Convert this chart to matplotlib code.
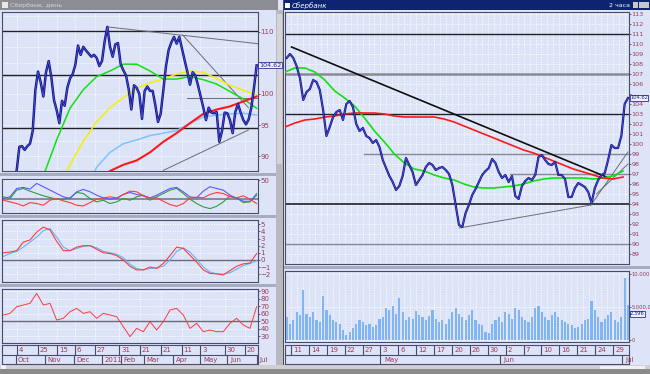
import numpy as np
import matplotlib
matplotlib.use("Agg")
import matplotlib.pyplot as plt
from matplotlib.patches import Rectangle
from matplotlib.transforms import blended_transform_factory

W, H = 650, 374
BG = '#dde4f8'
FRAME = '#4a4a6a'
LBL = '#9a3a5a'
nan = np.nan

# ---------------- left window: daily, Sep 2010 - Jul 2011 ----------------
l_close = [84.5, 85.0, 85.5, 86.0, 86.5,
           87.7, 91.5, 91.6, 91.0, 91.6, 92.0, 94.0, 100.6, 103.6, 101.9,
           99.6, 103.5, 105.3, 102.7, 99.0, 97.4, 95.3, 98.9, 98.1, 101.0,
           102.5, 103.2, 104.7, 107.8, 106.3, 107.6, 107.0, 106.5, 106.0, 106.3,
           105.8, 104.5, 105.3, 108.5, 110.8, 107.6, 106.0, 108.0, 108.2, 104.8,
           103.8, 103.0, 100.8, 97.5, 101.4, 101.0, 100.0, 96.0, 100.5, 101.2,
           100.5, 100.5, 98.2, 95.5, 96.8, 100.6, 104.5, 107.1, 108.3, 109.2,
           108.1, 109.2, 107.3, 105.4, 103.6, 101.5, 103.5, 103.0, 101.4, 99.6,
           97.8, 95.8, 97.8, 97.0, 96.9, 97.1, 92.3, 94.0, 97.0, 96.9,
           95.8, 93.7, 97.1, 98.4, 97.0, 95.8, 95.1, 95.9, 97.8, 101.0,
           104.6]
l_ma_green = [86.8, 92.6, 97.7, 100.7, 102.8, 103.7, 104.8, 104.8, 103.7,
              102.4, 102.4, 102.8, 102.3, 101.6, 100.4, 99.2, 97.7]
l_ma_yellow = [nan, 84.0, 88.6, 92.4, 95.5, 97.8, 99.4, 100.9, 101.8,
               102.4, 103.2, 103.7, 103.5, 102.5, 101.4, 100.6, 99.8]
l_ma_blue = [nan, nan, nan, 84.0, 88.2, 90.6, 92.0, 92.6, 93.3,
             93.7, 94.1, 95.3, 96.3, 96.6, 96.8, 96.9, 96.6]
l_ma_red = [nan, nan, nan, nan, 85.5, 87.6, 88.6, 89.3, 90.6,
            92.3, 93.7, 95.3, 96.8, 97.5, 98.0, 98.8, 99.6]
l_levels = [110.2, 103.0, 94.5]
l_trend = [((78.0, 110.8), (189.4, 108.1)),
           ((133.8, 109.5), (182.5, 97.8)),
           ((119.5, 87.7), (182.5, 94.2)),
           ((136.8, 99.3), (188.6, 99.3))]

osc_blue = [21.1, 23.7, 36.8, 38.4, 35.8, 44.7, 39.5, 34.2, 28.9, 23.7, 21.1, 31.6, 35.3,
            31.6, 26.3, 22.1, 20.0, 21.1, 27.4, 30.5, 27.4, 25.3, 22.1, 26.3, 31.6, 36.8,
            38.4, 31.6, 23.7, 22.1, 32.6, 39.5, 36.8, 34.2, 26.3, 21.1, 16.8, 16.8, 26.3]
osc_green = [23.7, 21.1, 34.2, 36.8, 32.6, 28.9, 25.3, 22.6, 20.0, 20.0, 22.1, 30.5, 28.9,
             21.1, 15.8, 18.4, 13.2, 15.8, 21.1, 18.4, 23.7, 26.3, 18.4, 23.7, 28.9, 34.2,
             36.8, 28.9, 20.0, 13.2, 7.9, 5.3, 8.9, 15.8, 25.3, 22.1, 14.7, 15.8, 28.9]
osc_red = [18.4, 15.8, 13.2, 9.5, 14.7, 13.2, 10.5, 18.4, 21.1, 17.4, 14.7, 10.5, 9.5,
           14.7, 20.0, 22.1, 23.7, 22.1, 27.4, 32.6, 31.6, 25.3, 22.1, 22.1, 16.8, 11.6,
           8.9, 13.2, 22.1, 23.2, 22.1, 27.4, 30.5, 28.9, 23.7, 22.1, 25.3, 20.0, 13.2]
macd = [1.0, 1.1, 1.3, 2.5, 2.8, 3.9, 4.6, 4.2, 2.6, 1.3, 1.3, 1.8, 2.0, 2.0, 1.5, 1.0,
        0.9, 0.6, 0.0, -0.9, -1.4, -1.4, -1.0, -1.2, -0.5, 0.6, 1.8, 1.6, 0.65, -0.3,
        -1.4, -1.9, -1.95, -2.1, -1.5, -0.9, -0.55, -0.45, 0.9]
macd_signal = [0.5, 0.9, 1.2, 1.8, 2.5, 3.2, 4.1, 4.4, 3.2, 1.8, 1.3, 1.6, 1.9, 2.0, 1.7,
               1.2, 1.0, 0.8, 0.3, -0.6, -1.2, -1.4, -1.2, -1.1, -0.9, 0.0, 1.2, 1.7, 1.1,
               0.1, -1.0, -1.7, -1.95, -2.0, -1.8, -1.3, -0.8, -0.5, -0.1]
rsi = [58.0, 60.2, 69.1, 71.3, 73.6, 86.9, 71.3, 73.6, 51.3, 53.6, 62.4, 66.9, 60.2,
       62.4, 53.6, 60.2, 58.0, 55.8, 42.4, 29.1, 40.2, 35.8, 49.1, 38.0, 49.1, 64.7,
       66.9, 58.0, 40.2, 46.9, 35.8, 38.0, 35.8, 35.8, 46.9, 53.6, 44.7, 40.2, 69.1]

l_day_ticks = [11, 27, 41, 54, 69, 87, 102, 118, 133, 147, 165, 180]
l_day_labels = ['4', '25', '15', '6', '27', '31', '21', '21', '11', '3', '30', '20']
l_month_seps = [10, 32, 53, 74, 88, 105, 127, 147, 167, 189]
l_month_labels = ['Oct', 'Nov', 'Dec', '2011', 'Feb', 'Mar', 'Apr', 'May', 'Jun', 'Jul']

# ---------------- right window: 2-hour bars, Apr - Jul 2011 ----------------
r_close = [108.6, 109.0, 108.6, 107.8, 106.6, 104.4, 105.2, 105.5, 106.4, 106.2,
           105.4, 103.4, 100.8, 101.7, 102.7, 103.2, 103.4, 102.4, 104.0, 104.3,
           103.7, 102.0, 101.3, 101.6, 100.8, 100.6, 100.1, 100.4, 99.7, 98.4,
           97.6, 96.8, 96.2, 95.4, 95.8, 96.8, 98.6, 97.9, 97.2, 95.9,
           96.4, 96.9, 97.7, 98.1, 97.9, 97.4, 97.6, 97.7, 97.4, 97.0,
           95.9, 93.9, 91.9, 91.7, 93.1, 93.9, 94.9, 95.5, 96.2, 96.9,
           97.3, 97.6, 98.5, 98.1, 97.2, 96.6, 96.9, 96.2, 96.8, 94.8,
           94.5, 95.8, 96.3, 96.6, 96.4, 96.9, 98.7, 98.9, 98.4, 98.0,
           97.9, 98.2, 96.9, 96.9, 96.5, 94.7, 94.7, 95.6, 96.1, 95.9,
           95.7, 95.2, 94.1, 95.6, 96.4, 96.9, 97.1, 98.4, 99.9, 99.6,
           99.6, 100.8, 104.0, 104.6]
r_vol = [3500, 2500, 3000, 4200, 3800, 7600, 4000, 3500, 4200, 3000,
         2800, 6700, 4500, 3800, 3000, 2800, 2500, 1500, 800, 1200,
         1800, 2500, 3000, 2800, 2200, 2500, 2000, 2200, 3200, 3500,
         4800, 4500, 5200, 4000, 6400, 4200, 3000, 3500, 3200, 4400,
         3800, 3500, 3000, 3600, 4500, 3200, 2800, 3000, 2500, 3200,
         4200, 4800, 4000, 3500, 3000, 3800, 4500, 3000, 2500, 2200,
         1200, 1000, 2500, 3000, 3500, 2800, 4200, 4000, 3200, 4800,
         4500, 3500, 3000, 2800, 3500, 4800, 5200, 4200, 3500, 3000,
         3800, 4200, 3500, 3000, 2800, 2500, 2200, 1800, 2000, 2500,
         3000, 3200, 5900, 4500, 3500, 2800, 3200, 3800, 4200, 3000,
         2800, 3500, 9400, 5300]
r_ma_green = [107.2, 107.6, 107.6, 107.2, 106.4, 105.3, 104.6, 103.8, 102.6, 101.3,
              100.2, 99.0, 98.1, 97.5, 97.3, 96.9, 96.6, 96.4, 96.0, 95.7,
              95.6, 95.6, 95.7, 95.8, 96.0, 96.3, 96.5, 96.6, 96.6, 96.6,
              96.6, 96.5, 96.6, 96.8, 97.3]
r_ma_red = [101.7, 102.1, 102.4, 102.5, 102.7, 102.8, 103.0, 103.1, 103.1, 103.1,
            103.0, 102.8, 102.7, 102.7, 102.7, 102.7, 102.5, 102.2, 101.8, 101.4,
            101.0, 100.6, 100.2, 99.8, 99.4, 99.1, 98.7, 98.3, 97.9, 97.5,
            97.2, 96.9, 96.6, 96.5, 96.7]
r_black_levels = [111, 103, 94]
r_gray_levels = [107, 90]
r_partial_levels = [(12.3, 99), (36.8, 97)]
r_trend_black = ((0.1, 109.7), (52.9, 96.7))
r_trend_gray = [((28.2, 91.6), (50.3, 93.9)),
                ((50.3, 93.9), (56.5, 99.2)),
                ((51.2, 95.0), (56.5, 98.0))]

r_day_ticks = list(range(0, 55, 3))
r_day_labels = ['11', '14', '19', '22', '27', '3', '6', '12', '17', '20',
                '26', '30', '2', '7', '10', '16', '21', '24', '29']
r_month_seps = [15, 35, 55.5]
r_month_labels = ['May', 'Jun', 'Jul']

# ---------------- figure ----------------
fig = plt.figure(figsize=(6.5, 3.74), dpi=100)
fig.patch.set_facecolor(BG)


def rect(x0, y0, x1, y1):
    return [x0 / W, 1 - y1 / H, (x1 - x0) / W, (y1 - y0) / H]


bg = fig.add_axes([0, 0, 1, 1], zorder=-5)
bg.set_xlim(0, W)
bg.set_ylim(H, 0)
bg.axis('off')


def box(x, y, w, h, c, **kw):
    bg.add_patch(Rectangle((x, y), w, h, facecolor=c, edgecolor='none', **kw))


# title bars
box(0, 0, 278, 10, '#8c8c94')
box(2, 2, 6, 6, '#e8e8e8')
bg.text(10, 5.3, 'Сбербанк, день', fontsize=4.5, color='#d8d8d8', va='center')
box(283, 0, 367, 10, '#0c2472')
box(285, 2.5, 5, 5, '#ffffff')
bg.text(292, 5.3, 'Сбербанк', fontsize=5, color='white', va='center', style='italic')
bg.text(630, 5.3, '2 часа', fontsize=4.5, color='white', va='center', ha='right')
for bx in (633, 638.5, 644):
    box(bx, 2, 5, 6, '#c8c8c8')
# window border and scrollbar between windows
box(276, 10, 7, 356, '#b8b8c0')
box(277, 14, 5, 150, '#d4d4d8')
box(282.5, 0, 1.2, 366, '#505050')
# panel separators
for yy in (172.5, 214.5, 283.5):
    box(0, yy, 276, 3.5, '#a8acc0')
box(283.7, 265.5, 366, 3.5, '#a8acc0')
# bottom bars
box(0, 365, 650, 4, '#d0d0d4')
box(0, 369, 650, 5, '#8a8a8a')
box(600, 365.5, 45, 3, '#f0f0f0')
box(1, 364.5, 5, 4, '#f4f4f4')


def panel(x0, y0, x1, y1, xlim, lsize=5):
    ax = fig.add_axes(rect(x0, y0, x1, y1))
    ax.set_facecolor(BG)
    for s in ax.spines.values():
        s.set_color(FRAME)
        s.set_linewidth(0.8)
    ax.yaxis.tick_right()
    ax.tick_params(axis='y', labelsize=lsize, labelcolor=LBL, color=FRAME,
                   length=1.2, pad=0.4, width=0.6)
    ax.tick_params(axis='x', bottom=False, labelbottom=False, length=0)
    ax.set_xlim(*xlim)
    ax.grid(True, color='white', linestyle=(0, (1, 1.5)), linewidth=0.7)
    return ax


def date_strip(x0, y0, x1, y1, xlim, ticks, labels, seps, mlabels):
    ax = fig.add_axes(rect(x0, y0, x1, y1))
    ax.set_facecolor(BG)
    for s in ax.spines.values():
        s.set_color(FRAME)
        s.set_linewidth(0.8)
    ax.set_xlim(*xlim)
    ax.set_ylim(0, 2)
    ax.set_xticks([])
    ax.set_yticks([])
    ax.axhline(1, color=FRAME, lw=0.8)
    for t, lab in zip(ticks, labels):
        ax.plot([t, t], [1, 2], color=FRAME, lw=0.8)
        ax.text(t + (xlim[1] - xlim[0]) * 0.006, 1.45, lab, fontsize=5,
                color=LBL, va='center')
    for t, lab in zip(seps, mlabels):
        ax.plot([t, t], [0, 1], color=FRAME, lw=0.8)
        ax.text(t + (xlim[1] - xlim[0]) * 0.01, 0.45, lab, fontsize=5,
                color=LBL, va='center', clip_on=False)
    return ax


def value_box(ax, y, text, size=4.6):
    tr = blended_transform_factory(ax.transAxes, ax.transData)
    ax.text(1.003, y, text, transform=tr, fontsize=size, color='#202080',
            va='center', ha='left', clip_on=False,
            bbox=dict(boxstyle='square,pad=0.1', fc='#eef2ff', ec='#303090', lw=0.6))


l_xlim = (0, 189.6)
x_l = np.linspace(1.0, 188.6, len(l_close))
x_lma = np.linspace(30.6, 188.6, len(l_ma_green))
x_osc = np.linspace(1.0, 188.6, len(osc_blue))

# left price
ax = panel(2, 12, 258, 171, l_xlim)
ax.set_ylim(87.6, 113.2)
ax.set_xticks(l_day_ticks)
ax.set_yticks([90, 95, 100, 110])
ax.set_yticks([92.5, 97.5, 102.5, 105, 107.5, 112.5], minor=True)
ax.tick_params(axis='y', which='minor', length=0)
ax.grid(True, which='minor', axis='y', color='white', linestyle=(0, (1, 1.5)), linewidth=0.7)
for lv in l_levels:
    ax.axhline(lv, color='#202028', lw=1.0, zorder=2)
for (a, b) in l_trend:
    ax.plot([a[0], b[0]], [a[1], b[1]], color='#6c6c74', lw=0.7, zorder=2)
ax.plot(x_lma, l_ma_blue, color='#7cc4ff', lw=1.1, zorder=3)
ax.plot(x_lma, l_ma_yellow, color='#f4f000', lw=1.1, zorder=3)
ax.plot(x_lma, l_ma_green, color='#10e010', lw=1.1, zorder=3)
ax.plot(x_lma, l_ma_red, color='#ff1818', lw=1.5, zorder=3)
ax.plot(x_l, l_close, color='#16168e', lw=1.8, zorder=4)
ax.plot(x_l, l_close, color='#5a6ae0', lw=0.4, zorder=4)
value_box(ax, 104.62, '104.62')

# left oscillator (DMI-like)
ax = panel(2, 179, 258, 213, l_xlim)
ax.set_ylim(-1.6, 51.6)
ax.set_xticks(l_day_ticks)
ax.set_yticks([50])
ax.axhline(20, color='#7a7a88', lw=1.2)
ax.plot(x_osc, osc_green, color='#2e9e3e', lw=0.8)
ax.plot(x_osc, osc_blue, color='#5a5aff', lw=0.8)
ax.plot(x_osc, osc_red, color='#ff3a3a', lw=0.8)

# left MACD
ax = panel(2, 220, 258, 282, l_xlim)
ax.set_ylim(-3.1, 5.6)
ax.set_xticks(l_day_ticks)
ax.set_yticks([-2, -1, 0, 1, 2, 3, 4, 5])
ax.axhline(0, color='#6a6a78', lw=1.0)
ax.plot(x_osc, macd_signal, color='#60b4ff', lw=0.8)
ax.plot(x_osc, macd, color='#ff3a3a', lw=0.8)

# left RSI
ax = panel(2, 289, 258, 343, l_xlim)
ax.set_ylim(20.7, 92.7)
ax.set_xticks(l_day_ticks)
ax.set_yticks([30, 40, 50, 60, 70, 80, 90])
ax.axhline(50, color='#6a6a78', lw=1.0)
ax.plot(x_osc, rsi, color='#ff3a3a', lw=0.7)

date_strip(2, 345, 258, 364, l_xlim, l_day_ticks, l_day_labels,
           l_month_seps, l_month_labels)

# right price
R_X1 = 629
r_xlim = (-1.0, 56.67)
x_r = np.linspace(-0.72, 56.5, len(r_close))
x_rma = np.linspace(-1.0, 55.67, len(r_ma_green))
ax = panel(285, 12, R_X1, 264, r_xlim, lsize=4.6)
ax.set_ylim(88.0, 113.2)
ax.set_xticks(r_day_ticks)
ax.set_xticks(np.arange(-1, 57, 1), minor=True)
ax.tick_params(axis='x', which='minor', length=0)
ax.grid(True, which='minor', axis='x', color='white', linestyle=(0, (1, 1.5)), linewidth=0.7)
ax.set_yticks(range(89, 114))
ax.set_yticklabels(['' if v == 105 else str(v) for v in range(89, 114)])
for lv in r_black_levels:
    ax.axhline(lv, color='#202028', lw=1.2 if lv == 94 else 1.0, zorder=2)
for lv in r_gray_levels:
    ax.axhline(lv, color='#8a8a94', lw=1.8 if lv == 107 else 1.0, zorder=2)
for x0, lv in r_partial_levels:
    ax.plot([x0, r_xlim[1]], [lv, lv], color='#8a8a94', lw=1.0, zorder=2)
for (a, b) in r_trend_gray:
    ax.plot([a[0], b[0]], [a[1], b[1]], color='#6c6c74', lw=0.7, zorder=2)
a, b = r_trend_black
ax.plot([a[0], b[0]], [a[1], b[1]], color='#101010', lw=1.2, zorder=3)
ax.plot(x_rma, r_ma_green, color='#10e010', lw=1.2, zorder=3)
ax.plot(x_rma, r_ma_red, color='#ff1818', lw=1.2, zorder=3)
ax.plot(x_r, r_close, color='#16168e', lw=1.6, zorder=4)
ax.plot(x_r, r_close, color='#5a6ae0', lw=0.4, zorder=4)
value_box(ax, 104.62, '104.62', size=3.7)

# right volume
ax = panel(285, 271, R_X1, 342, r_xlim, lsize=3.7)
ax.set_ylim(-300, 10450)
ax.set_xticks(r_day_ticks)
ax.set_xticks(np.arange(-1, 57, 1), minor=True)
ax.tick_params(axis='x', which='minor', length=0)
ax.grid(True, which='minor', axis='x', color='white', linestyle=(0, (1, 1.5)), linewidth=0.7)
ax.set_yticks([0, 5000, 10000])
ax.set_yticklabels(['0', '5.000,0', '10.000'])
ax.bar(x_r, r_vol, width=0.36, color='#80b4f2', zorder=3)
value_box(ax, 4000, '2.396', size=3.7)

date_strip(285, 345, R_X1, 364, r_xlim, r_day_ticks, r_day_labels,
           r_month_seps, r_month_labels)

fig.savefig('out.png', dpi=100, facecolor=fig.get_facecolor())
